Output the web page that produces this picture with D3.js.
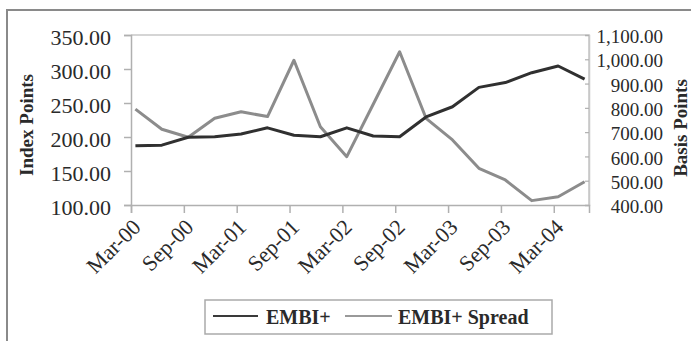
<!DOCTYPE html>
<html><head><meta charset="utf-8">
<script src="https://cdn.jsdelivr.net/npm/d3@7/dist/d3.min.js"></script>
<style>html,body{margin:0;padding:0;background:#fff;}svg{display:block;font-family:"Liberation Serif","Times New Roman",serif;}</style>
</head><body>
<script>
// ---- data ----
const axisStart = "Mar-00";          // first monthly category
const axisMonths = 52;               // Mar-00 .. Jun-04 monthly categories
const tickLabels = ["Mar-00","Sep-00","Mar-01","Sep-01","Mar-02","Sep-02","Mar-03","Sep-03","Mar-04"];
const dates = ["Mar-00","Jun-00","Sep-00","Dec-00","Mar-01","Jun-01","Sep-01","Dec-01","Mar-02","Jun-02","Sep-02","Dec-02","Mar-03","Jun-03","Sep-03","Dec-03","Mar-04","Jun-04"];
const embi   = [187, 188, 199.6, 200.5, 204.4, 213.5, 202.5, 200.4, 213.5, 201.5, 200.4, 229.5, 244.5, 273, 280, 294.6, 304.4, 285];
const spread = [795, 712, 679, 757, 784, 764, 996, 722, 599, 815, 1031, 757, 668, 551, 503, 418, 434, 496];
const leftTicks  = [100, 150, 200, 250, 300, 350];
const rightTicks = [400, 500, 600, 700, 800, 900, 1000, 1100];

// ---- layout ----
const W = 691, H = 341;
const L = 131, R = 589, T = 35, B = 205;
const parse = d3.timeParse("%b-%y");
const start = parse(axisStart);
const idx = s => d3.timeMonth.count(start, parse(s));

const svg = d3.select("body").append("svg").attr("width", W).attr("height", H);
svg.append("rect").attr("width", W).attr("height", H).attr("fill", "#fff");

// outer frame
svg.append("path").attr("d", `M7,${H} V10 H${W}`).attr("fill", "none")
  .attr("stroke", "#8a8a8a").attr("stroke-width", 2);

const x = d3.scaleLinear().domain([0, axisMonths]).range([L, R]);
const yL = d3.scaleLinear().domain([100, 350]).range([B, T]);
const yR = d3.scaleLinear().domain([400, 1100]).range([B, T]);

// plot border (top/right)
svg.append("path").attr("d", `M${L},${T} H${R} V${B}`).attr("fill", "none")
  .attr("stroke", "#c8c8c8").attr("stroke-width", 1.5);

// left axis
const gL = svg.append("g").attr("transform", `translate(${L},0)`)
  .call(d3.axisLeft(yL).tickValues(leftTicks).tickFormat(d3.format(".2f")).tickSize(7).tickPadding(13));
gL.select(".domain").attr("stroke", "#b0b0b0").attr("stroke-width", 1.5);
gL.selectAll(".tick line").attr("stroke", "#b0b0b0").attr("stroke-width", 1.5);
gL.selectAll(".tick text").attr("font-size", 22).attr("fill", "#2a2a2a").attr("dy", "0.45em")
  .attr("font-family", "Liberation Serif");

// right axis (inner ticks)
const gR = svg.append("g").attr("transform", `translate(${R},0)`)
  .call(d3.axisRight(yR).tickValues(rightTicks).tickFormat(d3.format(",.2f")).tickSize(-4).tickPadding(0));
gR.select(".domain").attr("stroke", "#c8c8c8").attr("stroke-width", 1.5);
gR.selectAll(".tick line").attr("stroke", "#b0b0b0").attr("stroke-width", 1.2);
gR.selectAll(".tick text").attr("font-size", 19).attr("fill", "#2a2a2a").attr("text-anchor", "end")
  .attr("x", 663 - R).attr("dy", "0.4em").attr("font-family", "Liberation Serif");

// bottom axis
const gB = svg.append("g").attr("transform", `translate(0,${B})`)
  .call(d3.axisBottom(x).tickValues(tickLabels.map(idx)).tickFormat((d, i) => tickLabels[i]).tickSize(8).tickPadding(0));
gB.select(".domain").attr("stroke", "#b0b0b0").attr("stroke-width", 1.5);
gB.selectAll(".tick line").attr("stroke", "#b0b0b0").attr("stroke-width", 1.5);
gB.selectAll(".tick text").attr("font-size", 22).attr("fill", "#2a2a2a").attr("text-anchor", "end")
  .attr("font-family", "Liberation Serif")
  .attr("transform", "translate(5,18) rotate(-45)").attr("dy", "0.35em").attr("y", 0);

// axis titles
svg.append("text").attr("transform", `translate(33,125) rotate(-90)`).attr("text-anchor", "middle")
  .attr("font-size", 19).attr("font-weight", "bold").attr("fill", "#2a2a2a").text("Index Points");
svg.append("text").attr("transform", `translate(687,128) rotate(-90)`).attr("text-anchor", "middle")
  .attr("font-size", 19).attr("font-weight", "bold").attr("fill", "#2a2a2a").text("Basis Points");

// lines
const lineL = d3.line().x((d, i) => x(idx(dates[i]) + 0.5)).y(d => yL(d));
const lineR = d3.line().x((d, i) => x(idx(dates[i]) + 0.5)).y(d => yR(d));
svg.append("path").datum(spread).attr("d", lineR).attr("fill", "none")
  .attr("stroke", "#8c8c8c").attr("stroke-width", 3).attr("stroke-linejoin", "round");
svg.append("path").datum(embi).attr("d", lineL).attr("fill", "none")
  .attr("stroke", "#303030").attr("stroke-width", 3).attr("stroke-linejoin", "round");

// legend
const lg = svg.append("g");
lg.append("rect").attr("x", 205).attr("y", 300).attr("width", 347).attr("height", 34)
  .attr("fill", "#fff").attr("stroke", "#aaa").attr("stroke-width", 1.5);
const items = [{name: "EMBI+", color: "#3a3a3a", x1: 213, x2: 258, tx: 266},
               {name: "EMBI+ Spread", color: "#999", x1: 345, x2: 392, tx: 398}];
items.forEach(it => {
  lg.append("line").attr("x1", it.x1).attr("x2", it.x2).attr("y1", 316).attr("y2", 316)
    .attr("stroke", it.color).attr("stroke-width", 2);
  lg.append("text").attr("x", it.tx).attr("y", 324).attr("font-size", 20).attr("font-weight", "bold")
    .attr("fill", "#2a2a2a").text(it.name);
});
</script>
</body></html>
